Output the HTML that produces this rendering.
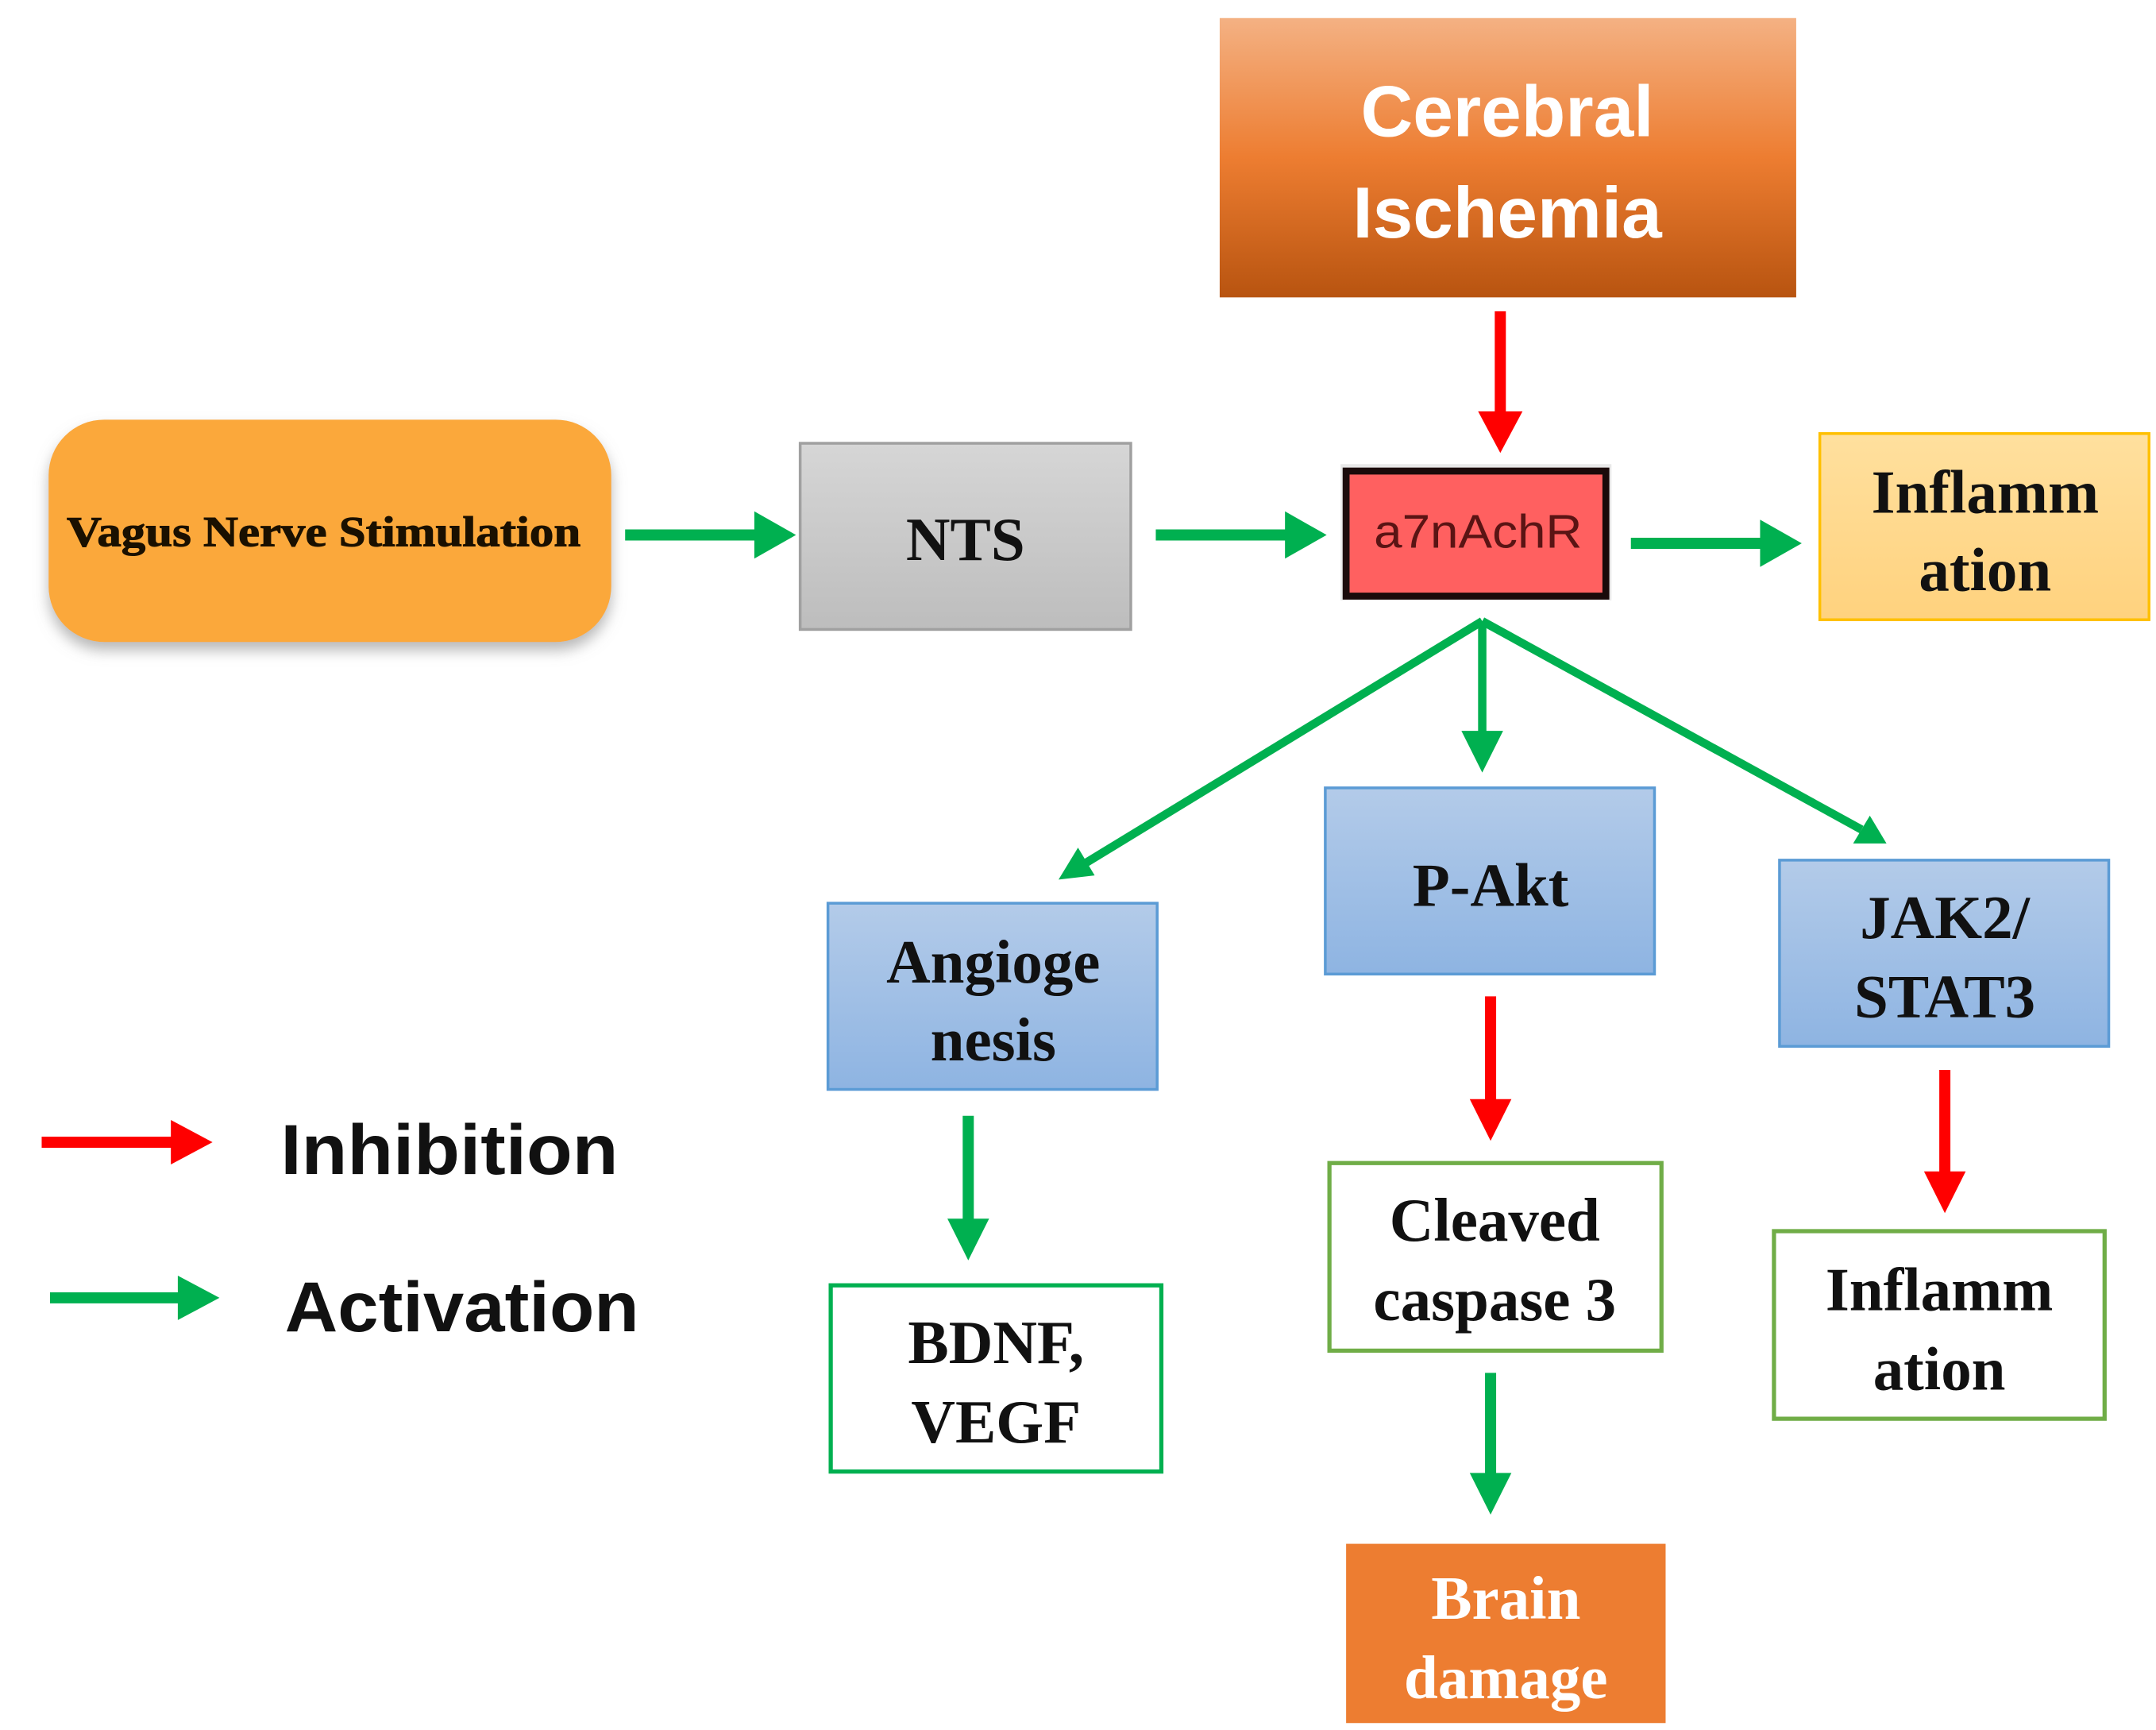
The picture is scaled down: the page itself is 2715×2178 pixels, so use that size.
<!DOCTYPE html>
<html><head><meta charset="utf-8"><style>html,body{margin:0;padding:0;background:#fff}svg{display:block}</style></head>
<body>
<svg width="2715" height="2178" viewBox="0 0 1552 1245" preserveAspectRatio="none" xmlns="http://www.w3.org/2000/svg">
<defs>
<linearGradient id="gO" x1="0" y1="0" x2="0" y2="1"><stop offset="0" stop-color="#f4b183"/><stop offset="0.5" stop-color="#ed7d31"/><stop offset="1" stop-color="#b85410"/></linearGradient>
<linearGradient id="gG" x1="0" y1="0" x2="0" y2="1"><stop offset="0" stop-color="#d6d6d6"/><stop offset="1" stop-color="#bdbdbd"/></linearGradient>
<linearGradient id="gB" x1="0" y1="0" x2="0" y2="1"><stop offset="0" stop-color="#b3cbe9"/><stop offset="1" stop-color="#8eb4e2"/></linearGradient>
<linearGradient id="gY" x1="0" y1="0" x2="0" y2="1"><stop offset="0" stop-color="#ffe09e"/><stop offset="1" stop-color="#ffd27e"/></linearGradient>
<filter id="sh" x="-10%" y="-10%" width="120%" height="130%"><feDropShadow dx="0" dy="6" stdDeviation="5" flood-color="#888" flood-opacity="0.6"/></filter>
</defs>
<g font-family="Liberation Serif, serif" font-weight="bold" text-anchor="middle">
<rect x="878" y="13" width="415" height="201" fill="url(#gO)"/>
<text x="1085" y="98" font-family="Liberation Sans, sans-serif" font-size="52" fill="#fff">Cerebral</text>
<text x="1085" y="171" font-family="Liberation Sans, sans-serif" font-size="52" fill="#fff">Ischemia</text>
<rect x="35" y="302" width="405" height="160" rx="40" fill="#fba83a" filter="url(#sh)"/>
<text x="233" y="393" font-size="31" fill="#1a1000" stroke="#1a1000" stroke-width="0.6" textLength="370" lengthAdjust="spacingAndGlyphs">Vagus Nerve Stimulation</text>
<rect x="576" y="319" width="238" height="134" fill="url(#gG)" stroke="#a0a0a0" stroke-width="2"/>
<text x="695" y="403" font-size="44" fill="#111">NTS</text>
<rect x="965" y="334" width="195" height="98" fill="#e8e8e8"/>
<rect x="969" y="339" width="187" height="90" fill="#ff6060" stroke="#1a0a0a" stroke-width="5"/>
<text x="1064" y="394" font-family="Liberation Sans, sans-serif" font-weight="normal" font-size="34" fill="#5a1414" textLength="150" lengthAdjust="spacingAndGlyphs">a7nAchR</text>
<rect x="1310" y="312" width="237" height="134" fill="url(#gY)" stroke="#ffc000" stroke-width="2"/>
<text x="1429" y="369" font-size="44" fill="#111">Inflamm</text>
<text x="1429" y="425" font-size="44" fill="#111">ation</text>
<rect x="596" y="650" width="237" height="134" fill="url(#gB)" stroke="#5b9bd5" stroke-width="2"/>
<text x="715" y="707" font-size="44" fill="#111">Angioge</text>
<text x="715" y="763" font-size="44" fill="#111">nesis</text>
<rect x="954" y="567" width="237" height="134" fill="url(#gB)" stroke="#5b9bd5" stroke-width="2"/>
<text x="1073" y="652" font-size="44" fill="#111">P-Akt</text>
<rect x="1281" y="619" width="237" height="134" fill="url(#gB)" stroke="#5b9bd5" stroke-width="2"/>
<text x="1400" y="675" font-size="44" fill="#111">JAK2/</text>
<text x="1400" y="732" font-size="44" fill="#111">STAT3</text>
<rect x="598" y="925" width="238" height="134" fill="#fff" stroke="#00b050" stroke-width="3"/>
<text x="717" y="981" font-size="44" fill="#111">BDNF,</text>
<text x="717" y="1038" font-size="44" fill="#111">VEGF</text>
<rect x="957" y="837" width="239" height="135" fill="#fff" stroke="#70ad47" stroke-width="3"/>
<text x="1076" y="893" font-size="44" fill="#111">Cleaved</text>
<text x="1076" y="950" font-size="44" fill="#111">caspase 3</text>
<rect x="1277" y="886" width="238" height="135" fill="#fff" stroke="#70ad47" stroke-width="3"/>
<text x="1396" y="943" font-size="44" fill="#111">Inflamm</text>
<text x="1396" y="1000" font-size="44" fill="#111">ation</text>
<rect x="969" y="1111" width="230" height="129" fill="#ed7d31"/>
<text x="1084" y="1165" font-size="44" fill="#fff">Brain</text>
<text x="1084" y="1222" font-size="44" fill="#fff">damage</text>
<text x="202" y="845" text-anchor="start" font-family="Liberation Sans, sans-serif" font-size="51" fill="#111" textLength="243" lengthAdjust="spacingAndGlyphs">Inhibition</text>
<text x="205" y="958" text-anchor="start" font-family="Liberation Sans, sans-serif" font-size="51" fill="#111" textLength="255" lengthAdjust="spacingAndGlyphs">Activation</text>
</g>
<g stroke-width="8" fill="none">
<line x1="450" y1="385" x2="545" y2="385" stroke="#00b050"/>
<polygon points="543,368 573,385 543,402" fill="#00b050" stroke="none"/>
<line x1="832" y1="385" x2="927" y2="385" stroke="#00b050"/>
<polygon points="925,368 955,385 925,402" fill="#00b050" stroke="none"/>
<line x1="1174" y1="391" x2="1269" y2="391" stroke="#00b050"/>
<polygon points="1267,374 1297,391 1267,408" fill="#00b050" stroke="none"/>
<line x1="1080" y1="224" x2="1080" y2="300" stroke="#ff0000"/>
<polygon points="1064,296 1080,326 1096,296" fill="#ff0000" stroke="none"/>
<line x1="1067" y1="447" x2="780" y2="622" stroke="#00b050" stroke-width="6"/>
<polygon points="762,633 776,610 788,630" fill="#00b050" stroke="none"/>
<line x1="1067" y1="447" x2="1067" y2="530" stroke="#00b050" stroke-width="6"/>
<polygon points="1052,526 1067,556 1082,526" fill="#00b050" stroke="none"/>
<line x1="1067" y1="447" x2="1340" y2="597" stroke="#00b050" stroke-width="6"/>
<polygon points="1358,607 1334,607 1346,587" fill="#00b050" stroke="none"/>
<line x1="697" y1="803" x2="697" y2="880" stroke="#00b050"/>
<polygon points="682,877 697,907 712,877" fill="#00b050" stroke="none"/>
<line x1="1073" y1="717" x2="1073" y2="794" stroke="#ff0000"/>
<polygon points="1058,791 1073,821 1088,791" fill="#ff0000" stroke="none"/>
<line x1="1073" y1="988" x2="1073" y2="1063" stroke="#00b050"/>
<polygon points="1058,1060 1073,1090 1088,1060" fill="#00b050" stroke="none"/>
<line x1="1400" y1="770" x2="1400" y2="846" stroke="#ff0000"/>
<polygon points="1385,843 1400,873 1415,843" fill="#ff0000" stroke="none"/>
<line x1="30" y1="822" x2="125" y2="822" stroke="#ff0000"/>
<polygon points="123,806 153,822 123,838" fill="#ff0000" stroke="none"/>
<line x1="36" y1="934" x2="130" y2="934" stroke="#00b050"/>
<polygon points="128,918 158,934 128,950" fill="#00b050" stroke="none"/>
</g>
</svg>
</body></html>
